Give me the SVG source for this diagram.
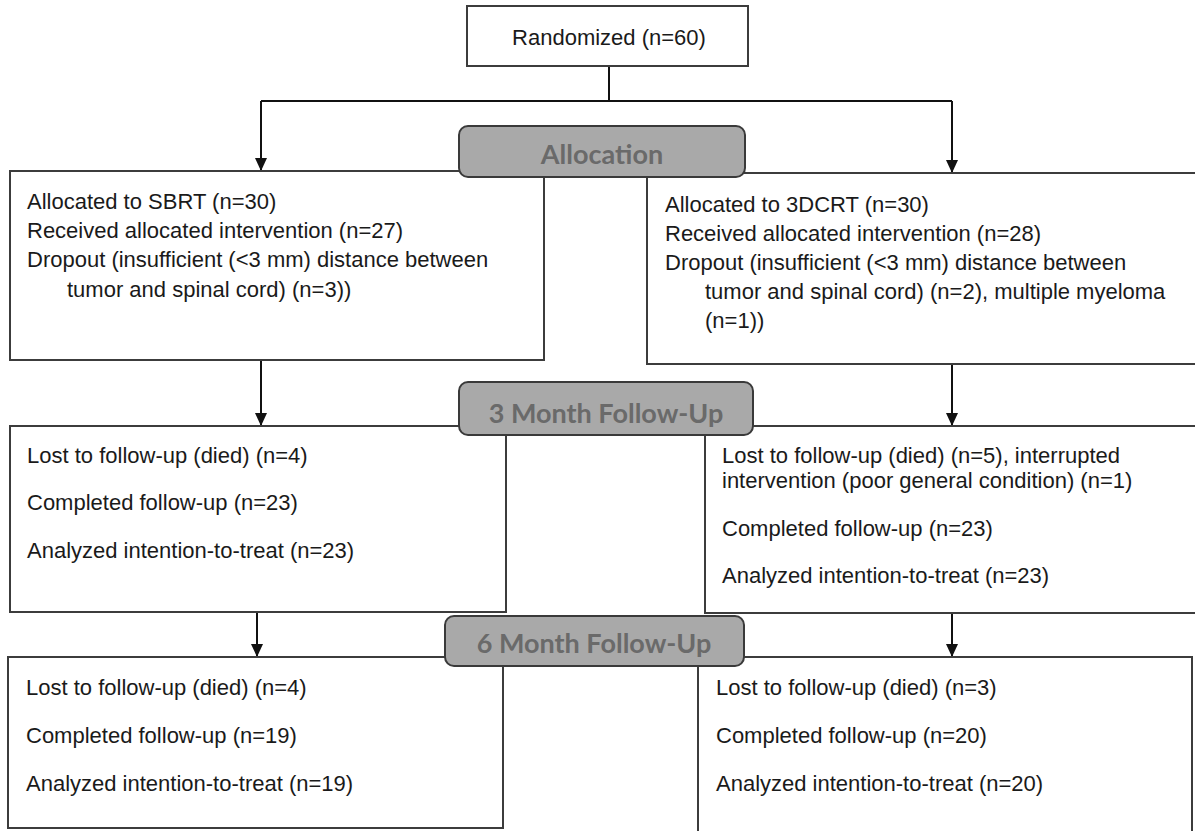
<svg xmlns="http://www.w3.org/2000/svg" width="1195" height="831" viewBox="0 0 1195 831">
<defs>
<style>
.box{fill:#ffffff;stroke:#3c3c3c;stroke-width:2}
.stage{fill:#a9a9a9;stroke:#3a3a3a;stroke-width:2}
.t{font-family:"Liberation Sans",Arial,sans-serif;font-size:22px;fill:#1a1a1a}
.st{font-family:Lato,"Open Sans",sans-serif;font-weight:bold;font-size:27px;fill:#6a6a6a;text-anchor:middle}
.ln{fill:none;stroke:#111;stroke-width:2}
</style>
<marker id="ah" viewBox="0 0 13 12" refX="13" refY="6" markerWidth="13" markerHeight="12" markerUnits="userSpaceOnUse" orient="auto">
<path d="M0,0 L13,6 L0,12 Z" fill="#111"/>
</marker>
</defs>
<rect width="1195" height="831" fill="#ffffff"/>
<g id="connectors">
<path class="ln" d="M609,66 V101"/>
<path class="ln" d="M261,101 H952"/>
<path class="ln" d="M261,101 V171" marker-end="url(#ah)"/>
<path class="ln" d="M952,101 V173" marker-end="url(#ah)"/>
<path class="ln" d="M261,360 V426" marker-end="url(#ah)"/>
<path class="ln" d="M952,364 V426" marker-end="url(#ah)"/>
<path class="ln" d="M257,612 V657" marker-end="url(#ah)"/>
<path class="ln" d="M952,613 V657" marker-end="url(#ah)"/>
</g>
<g id="randomized">
<rect class="box" x="467" y="6" width="281" height="60"/>
<text class="t" x="609" y="45" text-anchor="middle">Randomized (n=60)</text>
</g>
<g id="sbrt-alloc">
<rect class="box" x="10" y="171" width="534" height="189"/>
<text class="t" x="27" y="209">Allocated to SBRT (n=30)</text>
<text class="t" x="27" y="238">Received allocated intervention (n=27)</text>
<text class="t" x="27" y="267">Dropout (insufficient (&lt;3 mm) distance between</text>
<text class="t" x="67" y="297">tumor and spinal cord) (n=3))</text>
</g>
<g id="dcrt-alloc">
<rect class="box" x="647" y="173" width="560" height="191"/>
<text class="t" x="665" y="212">Allocated to 3DCRT (n=30)</text>
<text class="t" x="665" y="241">Received allocated intervention (n=28)</text>
<text class="t" x="665" y="270">Dropout (insufficient (&lt;3 mm) distance between</text>
<text class="t" x="705" y="299">tumor and spinal cord) (n=2), multiple myeloma</text>
<text class="t" x="705" y="328">(n=1))</text>
</g>
<g id="allocation">
<rect class="stage" x="459" y="126" width="286" height="51" rx="9"/>
<text class="st" x="602" y="164">Allocation</text>
</g>
<g id="sbrt-3m">
<rect class="box" x="10" y="426" width="496" height="186"/>
<text class="t" x="27" y="463">Lost to follow-up (died) (n=4)</text>
<text class="t" x="27" y="510">Completed follow-up (n=23)</text>
<text class="t" x="27" y="558">Analyzed intention-to-treat (n=23)</text>
</g>
<g id="dcrt-3m">
<rect class="box" x="705" y="426" width="502" height="187"/>
<text class="t" x="722" y="463">Lost to follow-up (died) (n=5), interrupted</text>
<text class="t" x="722" y="488">intervention (poor general condition) (n=1)</text>
<text class="t" x="722" y="536">Completed follow-up (n=23)</text>
<text class="t" x="722" y="583">Analyzed intention-to-treat (n=23)</text>
</g>
<g id="month3">
<rect class="stage" x="459" y="382" width="294" height="53" rx="9"/>
<text class="st" x="606" y="423">3 Month Follow-Up</text>
</g>
<g id="sbrt-6m">
<rect class="box" x="8" y="657" width="495" height="171"/>
<text class="t" x="26" y="695">Lost to follow-up (died) (n=4)</text>
<text class="t" x="26" y="743">Completed follow-up (n=19)</text>
<text class="t" x="26" y="791">Analyzed intention-to-treat (n=19)</text>
</g>
<g id="dcrt-6m">
<rect class="box" x="698" y="657" width="494" height="190"/>
<text class="t" x="716" y="695">Lost to follow-up (died) (n=3)</text>
<text class="t" x="716" y="743">Completed follow-up (n=20)</text>
<text class="t" x="716" y="791">Analyzed intention-to-treat (n=20)</text>
</g>
<g id="month6">
<rect class="stage" x="445" y="616" width="299" height="50" rx="9"/>
<text class="st" x="594" y="653">6 Month Follow-Up</text>
</g>
</svg>
